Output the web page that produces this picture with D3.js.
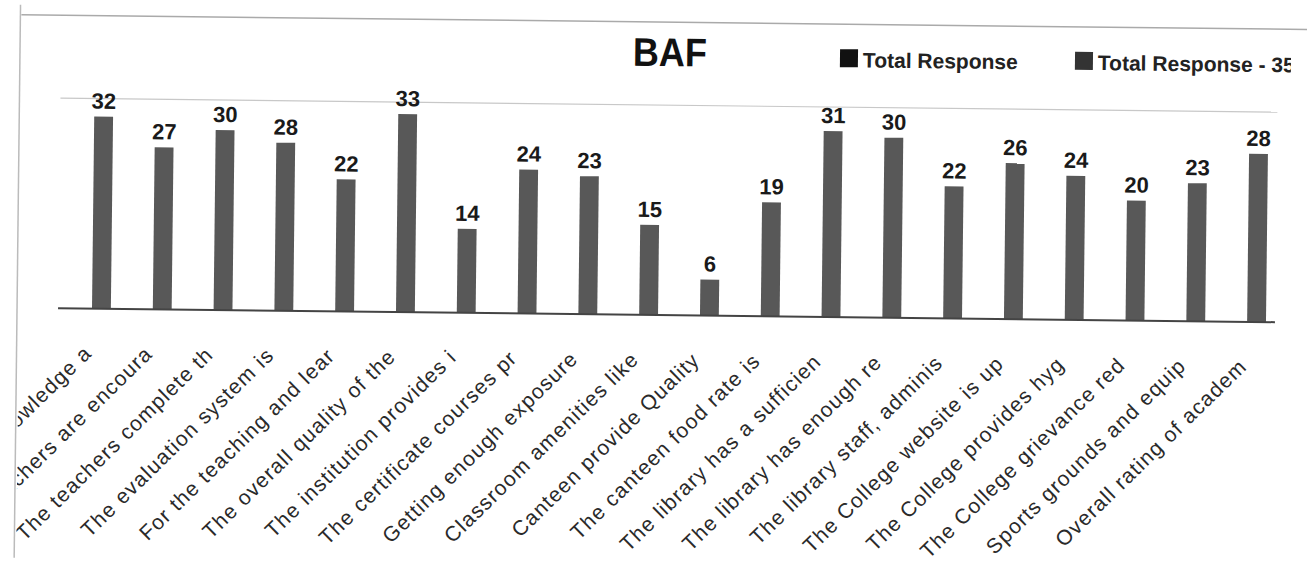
<!DOCTYPE html>
<html>
<head>
<meta charset="utf-8">
<script src="https://cdn.jsdelivr.net/npm/d3@7"></script>
<style>
  html, body { margin: 0; padding: 0; background: #fff; }
  svg { display: block; }
</style>
</head>
<body>
<svg id="chart" width="1307" height="572"></svg>
<script>
const title = "BAF";
const categories = [
  "The teachers' knowledge a",
  "The teachers are encoura",
  "The teachers complete th",
  "The evaluation system is",
  "For the teaching and lear",
  "The overall quality of the",
  "The institution provides i",
  "The certificate courses pr",
  "Getting enough exposure",
  "Classroom amenities like",
  "Canteen provide Quality",
  "The canteen food rate is",
  "The library has a sufficien",
  "The library has enough re",
  "The library staff, adminis",
  "The College website is up",
  "The College provides hyg",
  "The College grievance red",
  "Sports grounds and equip",
  "Overall rating of academ"
];
const totalResponse = [32, 27, 30, 28, 22, 33, 14, 24, 23, 15, 6, 19, 31, 30, 22, 26, 24, 20, 23, 28];
const seriesNames = ["Total Response", "Total Response - 35"];
const gridValues = [35];

const svg = d3.select("#chart");
const defs = svg.append("defs");
defs.append("clipPath").attr("id", "clipLeft")
  .append("rect").attr("x", 19).attr("y", 0).attr("width", 1300).attr("height", 600);
defs.append("clipPath").attr("id", "clipRight")
  .append("rect").attr("x", 0).attr("y", 0).attr("width", 1288).attr("height", 600);

svg.append("rect").attr("width", 1307).attr("height", 572).attr("fill", "#fff");

// slight scan skew
const g = svg.append("g").attr("transform", "rotate(0.66, 653, 315)");

const x = d3.scaleBand().domain(categories).range([71, 1287]).padding(0);
const y = d3.scaleLinear().domain([0, 35]).range([315, 105]);
const barW = x.bandwidth() * 0.31;
const barColor = "#585858";

// frame
g.append("line").attr("x1", 18).attr("x2", 1307).attr("y1", 22).attr("y2", 22)
  .attr("stroke", "#aaa").attr("stroke-width", 1.5);
g.append("line").attr("x1", 17).attr("x2", 17).attr("y1", 12).attr("y2", 565)
  .attr("stroke", "#bbb").attr("stroke-width", 1.5);

// gridline
g.selectAll(".grid").data(gridValues).join("line")
  .attr("class", "grid")
  .attr("x1", 58).attr("x2", 1275)
  .attr("y1", d => y(d)).attr("y2", d => y(d))
  .attr("stroke", "#c8c8c8").attr("stroke-width", 1.2);

// title
g.append("text").attr("x", 667).attr("y", 66)
  .attr("text-anchor", "middle")
  .attr("font-family", "Liberation Sans, Arial, sans-serif")
  .attr("font-weight", "bold").attr("font-size", 40)
  .attr("textLength", 74).attr("lengthAdjust", "spacingAndGlyphs")
  .attr("fill", "#111").text(title);

// legend
const legendX = [837, 1072];
const lg = g.append("g").attr("clip-path", "url(#clipRight)");
seriesNames.forEach((name, i) => {
  lg.append("rect").attr("x", legendX[i]).attr("y", 47).attr("width", 18).attr("height", 18)
    .attr("fill", i === 0 ? "#111" : "#333");
  lg.append("text").attr("x", legendX[i] + 23).attr("y", 65)
    .attr("font-family", "Liberation Sans, Arial, sans-serif")
    .attr("font-weight", "bold").attr("font-size", 21)
    .attr("fill", "#222").text(name);
});

// bars
g.selectAll(".bar").data(totalResponse).join("rect")
  .attr("class", "bar")
  .attr("x", (d, i) => x(categories[i]) + (x.bandwidth() - barW) / 2)
  .attr("y", d => y(d))
  .attr("width", barW)
  .attr("height", d => y(0) - y(d))
  .attr("fill", barColor);

// data labels
g.selectAll(".val").data(totalResponse).join("text")
  .attr("class", "val")
  .attr("x", (d, i) => x(categories[i]) + x.bandwidth() / 2)
  .attr("y", d => y(d) - 8)
  .attr("text-anchor", "middle")
  .attr("font-family", "Liberation Sans, Arial, sans-serif")
  .attr("font-weight", "bold").attr("font-size", 22)
  .attr("fill", "#1a1a1a").text(d => d);

// baseline
g.append("line").attr("x1", 58).attr("x2", 1275).attr("y1", y(0)).attr("y2", y(0))
  .attr("stroke", "#444").attr("stroke-width", 2);

// category labels
const lab = g.append("g").attr("clip-path", "url(#clipLeft)");
lab.selectAll(".cat").data(categories).join("text")
  .attr("class", "cat")
  .attr("transform", d => `translate(${x(d) + x.bandwidth() / 2 - 8}, ${y(0) + 46}) rotate(-45)`)
  .attr("text-anchor", "end")
  .attr("font-family", "Liberation Sans, Arial, sans-serif")
  .attr("font-size", 21)
  .attr("letter-spacing", 1.2)
  .attr("fill", "#2a2a2a").text(d => d);
</script>
</body>
</html>
